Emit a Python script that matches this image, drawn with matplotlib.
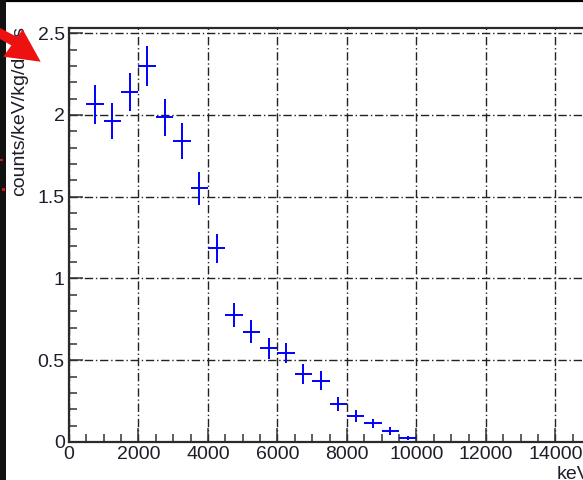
import matplotlib
matplotlib.use("Agg")
import matplotlib.pyplot as plt
from matplotlib.patches import Polygon, Rectangle
from matplotlib.lines import Line2D
from matplotlib.ticker import MultipleLocator

plt.rcParams['font.family'] = ['Liberation Sans', 'DejaVu Sans']

# spectrum (bin centres in keV, 500 keV wide bins)
energy = [750, 1250, 1750, 2250, 2750, 3250, 3750, 4250, 4750, 5250,
          5750, 6250, 6750, 7250, 7750, 8250, 8750, 9250, 9750]
rate = [2.065, 1.965, 2.14, 2.30, 1.985, 1.84, 1.552, 1.185, 0.777, 0.675,
        0.573, 0.543, 0.416, 0.375, 0.233, 0.159, 0.114, 0.067, 0.026]
rate_err = [0.12, 0.11, 0.118, 0.12, 0.114, 0.108, 0.10, 0.088, 0.072, 0.069,
            0.064, 0.061, 0.059, 0.059, 0.043, 0.034, 0.028, 0.022, 0.012]
bin_width = 500

W, H = 583, 480


def fx(px):
    return px / W


def fy(py):
    return 1 - py / H


fig = plt.figure(figsize=(W / 100, H / 100), dpi=100)

# axes frame: left edge at x=69 px, bottom at y=442 px, top at 27.5 px
x0, xend = 69, 69 + 15 * 34.74
ytop, ybot = 27.5, 442
ax = fig.add_axes([fx(x0), fy(ybot), (xend - x0) / W, (ybot - ytop) / H])

ax.errorbar(energy, rate, xerr=bin_width / 2, yerr=rate_err, fmt='none',
            ecolor='#0000ff', elinewidth=1.4, capsize=0, zorder=3)

ax.set_xlim(0, 15000)
ax.set_ylim(0, 2.535)

ax.xaxis.set_major_locator(MultipleLocator(2000))
ax.xaxis.set_minor_locator(MultipleLocator(500))
ax.yaxis.set_major_locator(MultipleLocator(0.5))
ax.yaxis.set_minor_locator(MultipleLocator(0.1))
ax.yaxis.set_major_formatter(plt.FuncFormatter(lambda v, p: f"{v:g}"))

ax.grid(True, which='major', color='#222222', linewidth=1.0,
        linestyle=(0, (6, 2, 1, 2)))
ax.set_axisbelow(True)

ax.tick_params(which='both', direction='in', colors='#333333',
               labelcolor='#1e1e2a', labelsize=14, top=False, right=False)
ax.tick_params(which='major', length=10, width=1.1, pad=3)
ax.tick_params(which='minor', length=5.8, width=1.1)

for side in ['left', 'bottom', 'top', 'right']:
    ax.spines[side].set_color('#2a2a2a')
    ax.spines[side].set_linewidth(1.6)

# y axis title
fig.text(fx(20), fy(111), 'counts/keV/kg/days', rotation=90, ha='center',
         va='center', fontsize=14, color='#1e1e2a')
# x axis title, cropped by the image edge
fig.text(fx(557), fy(466), 'keV', ha='left', va='top', fontsize=14,
         color='#1e1e2a')

# dark strip on the left and the black line on top
fig.patches.append(Rectangle((0, 0), fx(6), 1, transform=fig.transFigure,
                             facecolor='#121212', edgecolor='none', zorder=5))
fig.lines.append(Line2D([0, 1], [fy(0.8), fy(0.8)], transform=fig.transFigure,
                        color='black', linewidth=1.6, zorder=5))

# red arrow pointing at the axis title
arrow_head = [(fx(22.7), fy(29.3)), (fx(40.7), fy(61.7)), (fx(3.3), fy(56.7))]
arrow_shaft = [(fx(0), fy(28)), (fx(0), fy(39)), (fx(16), fy(48)), (fx(19), fy(38))]
for pts in (arrow_shaft, arrow_head):
    fig.patches.append(Polygon(pts, closed=True, transform=fig.transFigure,
                               facecolor='#ee1111', edgecolor='none', zorder=6))

# small red bits on the dark strip
fig.patches.append(Rectangle((fx(0), fy(161)), fx(3), 2 / H, transform=fig.transFigure,
                             facecolor='#dd1111', edgecolor='none', zorder=6))
fig.patches.append(Rectangle((fx(2), fy(191)), fx(3), 3 / H, transform=fig.transFigure,
                             facecolor='#dd1111', edgecolor='none', zorder=6))

fig.savefig('out.png', dpi=100)
